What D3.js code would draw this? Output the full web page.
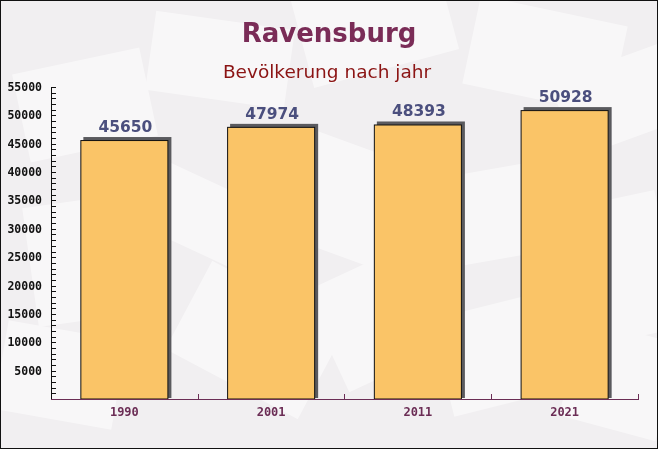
<!DOCTYPE html>
<html><head><meta charset="utf-8">
<script src="https://cdn.jsdelivr.net/npm/d3@7"></script>
<style>html,body{margin:0;padding:0;background:#fff}svg{display:block}</style>
</head><body>
<script>
const years = ["1990", "2001", "2011", "2021"];
const population = [45650, 47974, 48393, 50928];
const yTickLabels = [5000,10000,15000,20000,25000,30000,35000,40000,45000,50000,55000];
const title = "Ravensburg";
const subtitle = "Bevölkerung nach jahr";

const W = 658, H = 449;
const svg = d3.select("body").append("svg").attr("width", W).attr("height", H);

// background
svg.append("rect").attr("width", W).attr("height", H).attr("fill", "#f1eff1");
const deco = svg.append("g").attr("fill", "#ffffff").attr("opacity", 0.5);
[[20,60,130,90,-12],[150,20,140,80,8],[300,-20,150,90,-15],[470,10,150,90,12],[560,60,120,80,-20],
 [30,200,110,120,-8],[130,180,140,70,25],[280,150,160,110,20],[420,170,140,90,-10],[560,200,110,140,-12],
 [0,330,120,90,10],[180,290,150,100,28],[320,260,130,110,-25],[440,300,150,100,-14],[570,330,100,100,15]]
  .forEach(d => deco.append("rect").attr("x", d[0]).attr("y", d[1]).attr("width", d[2]).attr("height", d[3])
    .attr("transform", `rotate(${d[4]},${d[0]+d[2]/2},${d[1]+d[3]/2})`));

const x = d3.scaleBand().domain(years).range([51, 638]).paddingInner(0.4).paddingOuter(0.2);
const y = d3.scaleLinear().domain([0, 55000]).range([399, 87]);

// titles
svg.append("text").attr("x", 329).attr("y", 42).attr("text-anchor", "middle")
  .attr("font-family", "DejaVu Sans").attr("font-weight", "bold").attr("font-size", 26)
  .attr("fill", "#7a2c57").text(title);
svg.append("text").attr("x", 327).attr("y", 78).attr("text-anchor", "middle")
  .attr("font-family", "DejaVu Sans").attr("font-size", 18.5)
  .attr("fill", "#8b1414").text(subtitle);

// bars
const g = svg.append("g");
const bars = g.selectAll("g.bar").data(years.map((k, i) => ({k, v: population[i]}))).join("g");
bars.append("rect")
  .attr("x", d => x(d.k) + 3).attr("y", d => y(d.v) - 3)
  .attr("width", x.bandwidth()).attr("height", d => 399 - y(d.v) + 3 - 1)
  .attr("fill", "#5a5a5e");
bars.append("rect")
  .attr("x", d => x(d.k) + 0.5).attr("y", d => y(d.v) + 0.5)
  .attr("width", x.bandwidth() - 1).attr("height", d => 399 - y(d.v) - 0.5)
  .attr("fill", "#fac467").attr("stroke", "#111").attr("stroke-width", 1);
bars.append("text")
  .attr("x", d => x(d.k) + x.bandwidth() / 2 + 1).attr("y", d => y(d.v) - 8)
  .attr("text-anchor", "middle").attr("font-family", "DejaVu Sans").attr("font-weight", "bold")
  .attr("font-size", 15.5).attr("fill", "#4b4f7e").text(d => d.v);

// y axis
const yAxis = svg.append("g").attr("transform", "translate(51,0)");
yAxis.append("line").attr("x1", 0.5).attr("x2", 0.5).attr("y1", 87).attr("y2", 399).attr("stroke", "#111");
yAxis.selectAll("line.t").data(d3.range(0, 55001, 1000)).join("line")
  .attr("x1", 0.5).attr("x2", 5).attr("y1", d => Math.round(y(d)) + 0.5).attr("y2", d => Math.round(y(d)) + 0.5)
  .attr("stroke", "#111");
yAxis.selectAll("text").data(yTickLabels).join("text")
  .attr("x", -9).attr("y", d => y(d) + 4).attr("text-anchor", "end")
  .attr("font-family", "DejaVu Sans Mono").attr("font-weight", "bold").attr("font-size", 11.5)
  .attr("fill", "#111").text(d => d);

// x axis
const xAxis = svg.append("g");
xAxis.append("line").attr("x1", 51).attr("x2", 639).attr("y1", 399.5).attr("y2", 399.5).attr("stroke", "#6b2d55");
const bounds = years.map(k => x(k) - x.step() * x.paddingInner() / 2).concat([638]);
xAxis.selectAll("line.t").data(bounds.slice(1)).join("line")
  .attr("x1", d => Math.round(d) + 0.5).attr("x2", d => Math.round(d) + 0.5).attr("y1", 394).attr("y2", 399)
  .attr("stroke", "#6b2d55");
xAxis.selectAll("text").data(years).join("text")
  .attr("x", d => x(d) + x.bandwidth() / 2).attr("y", 416).attr("text-anchor", "middle")
  .attr("font-family", "DejaVu Sans Mono").attr("font-weight", "bold").attr("font-size", 12)
  .attr("fill", "#6b2d55").text(d => d);

// frame
svg.append("rect").attr("x", 0.5).attr("y", 0.5).attr("width", W - 1).attr("height", H - 1)
  .attr("fill", "none").attr("stroke", "#111");
</script>
</body></html>
